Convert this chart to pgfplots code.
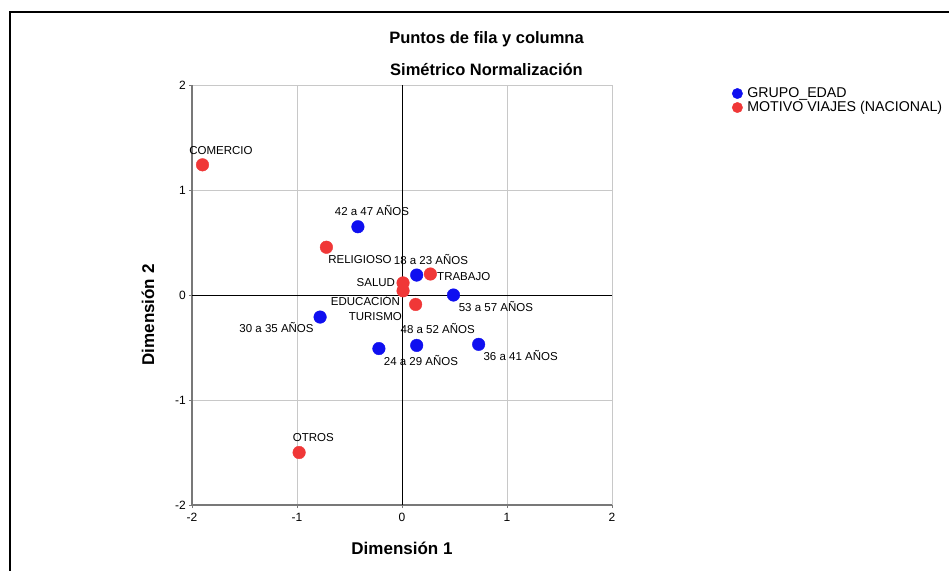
\documentclass[border=0pt]{standalone}
\usepackage{fontspec}
\setmainfont{Liberation Sans}
\usepackage{pgfplots}
\pgfplotsset{compat=1.18}
\definecolor{ptblue}{RGB}{15,15,240}
\definecolor{ptred}{RGB}{240,55,55}
\definecolor{gridgray}{RGB}{200,200,200}
\definecolor{axgray}{RGB}{120,120,120}
\tikzset{lbl/.style={font=\fontsize{11.5}{12}\selectfont, inner sep=0pt, text height=8.3pt, text depth=0pt}}
\begin{document}
\begin{tikzpicture}
\useasboundingbox (0pt,0pt) rectangle (949pt,-570pt);
\fill[white] (0pt,0pt) rectangle (949pt,-570pt);
\draw[line width=2.2pt] (10pt,-580pt) -- (10pt,-12pt) -- (960pt,-12pt);
\node[font=\bfseries\fontsize{16.5}{18}\selectfont, inner sep=0pt] at (486.5pt,-39pt) {Puntos de fila y columna};
\node[font=\bfseries\fontsize{16.5}{18}\selectfont, inner sep=0pt] at (486.5pt,-70pt) {Simétrico Normalización};
\begin{axis}[
  at={(192pt,-505pt)}, anchor=south west,
  scale only axis, width=420pt, height=420pt,
  xmin=-2, xmax=2, ymin=-2, ymax=2,
  xtick={-2,-1,0,1,2}, ytick={-2,-1,0,1,2},
  xticklabels={-2,-1,0,1,2}, yticklabels={-2,-1,0,1,2},
  axis lines=left,
  axis line style={-, axgray, line width=1.3pt},
  grid=major, grid style={gridgray, line width=0.9pt},
  tick align=outside, major tick length=3pt,
  tick style={axgray, line width=0.8pt},
  xticklabel style={font=\fontsize{12}{13}\selectfont, inner sep=0pt, text height=8.6pt, text depth=0pt, yshift=-4.5pt},
  yticklabel style={font=\fontsize{12}{13}\selectfont, inner sep=0pt, text height=8.6pt, text depth=0pt, xshift=-3pt},
  xlabel={Dimensión 1}, ylabel={Dimensión 2},
  every axis x label/.style={at={(axis description cs:0.5,-0.1024)}, anchor=center, font=\bfseries\fontsize{17}{18}\selectfont, inner sep=0pt, text height=12.5pt, text depth=0pt},
  every axis y label/.style={at={(axis description cs:-0.1048,0.4524)}, anchor=center, rotate=90, font=\bfseries\fontsize{17}{18}\selectfont, inner sep=0pt, text height=12.5pt, text depth=0pt},
  legend cell align=left,
  legend image code/.code={\fill[#1] (0pt,0pt) circle (5.2pt);},
  legend style={at={(axis description cs:1.2857,0.9952)}, anchor=north west, draw=none, fill=none, inner sep=0pt, outer sep=0pt, row sep=1pt, font=\fontsize{14.2}{15}\selectfont, nodes={inner sep=0pt, text height=10pt, text depth=3pt}, /tikz/every odd column/.style={column sep=4.5pt}},
  clip=false,
]
\draw[black, line width=1pt] (axis cs:0,-2) -- (axis cs:0,2);
\draw[black, line width=1pt] (axis cs:-2,0) -- (axis cs:2,0);
% GRUPO_EDAD
\addplot[only marks, mark=*, mark size=6.3pt, ptblue] coordinates {
 (0.14,0.19) (-0.22,-0.51) (-0.78,-0.21) (0.73,-0.47) (-0.42,0.65) (0.14,-0.48) (0.49,0.0)
};
\addlegendentry{GRUPO\_EDAD}
% MOTIVO VIAJES
\addplot[only marks, mark=*, mark size=6.3pt, ptred] coordinates {
 (-1.90,1.24) (-0.72,0.455) (0.27,0.20) (0.01,0.115) (0.01,0.04) (0.13,-0.09) (-0.98,-1.50)
};
\addlegendentry{MOTIVO VIAJES (NACIONAL)}
\node[lbl] at (axis cs:-1.724,1.381) {COMERCIO};
\node[lbl] at (axis cs:-0.286,0.793) {42 a 47 AÑOS};
\node[lbl] at (axis cs:-0.40,0.343) {RELIGIOSO};
\node[lbl] at (axis cs:0.276,0.327) {18 a 23 AÑOS};
\node[lbl] at (axis cs:0.588,0.181) {TRABAJO};
\node[lbl] at (axis cs:-0.249,0.117) {SALUD};
\node[lbl] at (axis cs:-0.348,-0.064) {EDUCACIÓN};
\node[lbl] at (axis cs:-0.254,-0.20) {TURISMO};
\node[lbl] at (axis cs:0.894,-0.121) {53 a 57 AÑOS};
\node[lbl] at (axis cs:-1.195,-0.32) {30 a 35 AÑOS};
\node[lbl] at (axis cs:0.34,-0.327) {48 a 52 AÑOS};
\node[lbl] at (axis cs:0.181,-0.629) {24 a 29 AÑOS};
\node[lbl] at (axis cs:1.13,-0.581) {36 a 41 AÑOS};
\node[lbl] at (axis cs:-0.845,-1.355) {OTROS};
\end{axis}
\end{tikzpicture}
\end{document}
